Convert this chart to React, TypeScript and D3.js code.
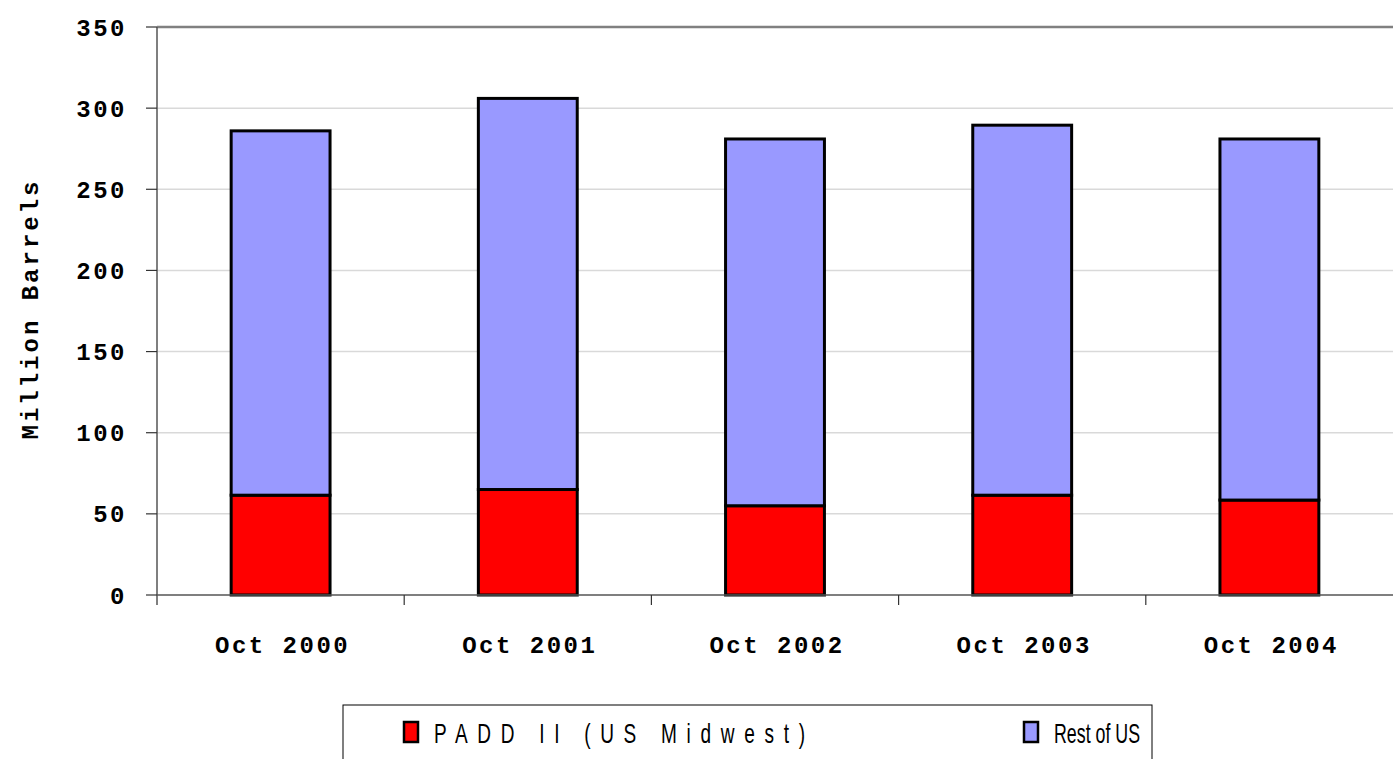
import React from "react";
import * as d3 from "d3";

const categories = ["Oct 2000", "Oct 2001", "Oct 2002", "Oct 2003", "Oct 2004"];
const midwest = [61.5, 65, 55, 61.5, 58.5];
const restOfUs = [224.5, 241, 226, 228, 222.5];
const yTicks = [0, 50, 100, 150, 200, 250, 300, 350];
const seriesNames = ["PADD II (US Midwest)", "Rest of US"];
const seriesColors = ["#ff0000", "#9999ff"];

const W = 1393;
const H = 759;
const plot = { left: 157, right: 1393, top: 27, bottom: 595 };
const mono = "'Liberation Mono', 'Courier New', monospace";
const sans = "'Liberation Sans', Arial, sans-serif";

// legend layout (swatch x, text width)
const legendX = [404, 1024];
const legendW = [371, 86];
const squeeze = 0.68;

const App = () => {
  const x = d3
    .scaleBand<string>()
    .domain(categories)
    .range([plot.left, plot.right])
    .paddingInner(0.6)
    .paddingOuter(0.3);
  const band = d3.scaleBand<string>().domain(categories).range([plot.left, plot.right]);
  const y = d3.scaleLinear().domain([0, 350]).range([plot.bottom, plot.top]);

  const rows = categories.map((c, i) => ({ cat: c, midwest: midwest[i], rest: restOfUs[i] }));
  const stacked = d3.stack<any>().keys(["midwest", "rest"])(rows);

  return (
    <svg width={W} height={H} style={{ position: "absolute", left: 0, top: 0, background: "#fff" }}>
      {/* gridlines */}
      {yTicks.slice(1, -1).map((t) => (
        <line key={t} x1={plot.left} x2={plot.right} y1={y(t)} y2={y(t)} stroke="#d9d9d9" strokeWidth={1.5} />
      ))}
      <line x1={plot.left} x2={plot.right} y1={y(350)} y2={y(350)} stroke="#808080" strokeWidth={2.5} />

      {/* bars */}
      {stacked.map((s, si) =>
        s.map((d, i) => (
          <rect
            key={si + "-" + i}
            x={x(categories[i])}
            width={x.bandwidth()}
            y={y(d[1])}
            height={y(d[0]) - y(d[1])}
            fill={seriesColors[si]}
            stroke="#000"
            strokeWidth={3}
          />
        ))
      )}

      {/* axes */}
      <line x1={plot.left} x2={plot.left} y1={plot.top} y2={plot.bottom + 10} stroke="#555" strokeWidth={1.5} />
      <line x1={plot.left} x2={plot.right} y1={plot.bottom} y2={plot.bottom} stroke="#555" strokeWidth={1.5} />
      {yTicks.map((t) => (
        <g key={t}>
          <line x1={plot.left - 11} x2={plot.left} y1={y(t)} y2={y(t)} stroke="#333" strokeWidth={1.2} />
          <text
            x={127}
            y={y(t)}
            dy="0.36em"
            textAnchor="end"
            fontFamily={mono}
            fontWeight="bold"
            fontSize={24}
            letterSpacing={2.5}
          >
            {t}
          </text>
        </g>
      ))}
      {categories.slice(1).map((c) => (
        <line
          key={c}
          x1={band(c)}
          x2={band(c)}
          y1={plot.bottom}
          y2={plot.bottom + 10}
          stroke="#333"
          strokeWidth={1.2}
        />
      ))}
      {categories.map((c) => (
        <text
          key={c}
          x={(band(c) as number) + band.bandwidth() / 2 + 2}
          y={653}
          textAnchor="middle"
          fontFamily={mono}
          fontWeight="bold"
          fontSize={24}
          letterSpacing={2.5}
        >
          {c}
        </text>
      ))}
      <text
        transform={`translate(38, 309) rotate(-90)`}
        textAnchor="middle"
        fontFamily={mono}
        fontWeight="bold"
        fontSize={24}
        letterSpacing={3}
      >
        Million Barrels
      </text>

      {/* legend */}
      <rect x={343} y={705} width={809} height={70} fill="#fff" stroke="#000" strokeWidth={1} />
      {seriesNames.map((n, i) => (
        <g key={n}>
          <rect
            x={legendX[i]}
            y={722}
            width={14}
            height={20}
            fill={seriesColors[i]}
            stroke="#000"
            strokeWidth={2.5}
          />
          <g transform={`translate(${legendX[i] + 30}, 743) scale(${squeeze}, 1)`}>
            <text
              x={0}
              y={0}
              fontFamily={sans}
              fontSize={28}
              textLength={legendW[i] / squeeze}
              lengthAdjust={i === 0 ? "spacing" : "spacingAndGlyphs"}
            >
              {n}
            </text>
          </g>
        </g>
      ))}
    </svg>
  );
};

export default App;
